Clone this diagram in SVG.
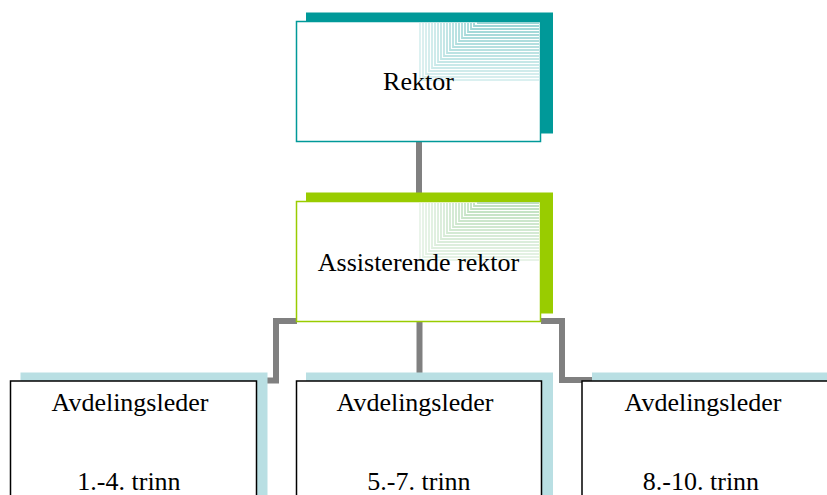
<svg xmlns="http://www.w3.org/2000/svg" xmlns:xlink="http://www.w3.org/1999/xlink" width="827" height="495" viewBox="0 0 827 495">
  <style>
    .label { font-family: "Liberation Serif", "DejaVu Serif", "Times New Roman", serif; font-size: 26px; fill: #000; text-anchor: middle; }
    .conn { fill: none; stroke: #808080; stroke-width: 6; stroke-linejoin: miter; }
    .card { fill: #fff; stroke-width: 1.5; }
    .sh-teal { fill: #009999; }
    .sh-green { fill: #99cc00; }
    .sh-blue { fill: #b9dfe3; }
  </style>
  <defs>
    <!-- nested corner lines, converging on the top-right of a card -->
    <g id="fan" fill="none" stroke-width="1.8">
      <polyline points="57,0 57,0 119,0" stroke-opacity="0.90"/>
      <polyline points="54,0 54,3 119,3" stroke-opacity="0.87"/>
      <polyline points="51,0 51,6 119,6" stroke-opacity="0.84"/>
      <polyline points="48,0 48,9 119,9" stroke-opacity="0.81"/>
      <polyline points="45,0 45,12 119,12" stroke-opacity="0.78"/>
      <polyline points="42,0 42,15 119,15" stroke-opacity="0.75"/>
      <polyline points="39,0 39,18 119,18" stroke-opacity="0.72"/>
      <polyline points="36,0 36,21 119,21" stroke-opacity="0.69"/>
      <polyline points="33,0 33,24 119,24" stroke-opacity="0.66"/>
      <polyline points="30,0 30,27 119,27" stroke-opacity="0.63"/>
      <polyline points="27,0 27,30 119,30" stroke-opacity="0.60"/>
      <polyline points="24,0 24,33 119,33" stroke-opacity="0.57"/>
      <polyline points="21,0 21,36 119,36" stroke-opacity="0.54"/>
      <polyline points="18,0 18,39 119,39" stroke-opacity="0.51"/>
      <polyline points="15,0 15,42 119,42" stroke-opacity="0.48"/>
      <polyline points="12,0 12,45 119,45" stroke-opacity="0.45"/>
      <polyline points="9,0 9,48 119,48" stroke-opacity="0.42"/>
      <polyline points="6,0 6,51 119,51" stroke-opacity="0.39"/>
      <polyline points="3,0 3,54 119,54" stroke-opacity="0.36"/>
      <polyline points="0,0 0,57 119,57" stroke-opacity="0.33"/>
    </g>
  </defs>

  <rect width="827" height="495" fill="#fff"/>

  <g id="connectors">
    <path class="conn" d="M419 141 V193"/>
    <path class="conn" d="M297 321 H276 V380.5 H267"/>
    <path class="conn" d="M419.5 321 V373"/>
    <path class="conn" d="M541 321 H562 V380 H592"/>
  </g>

  <g id="rektor">
    <rect class="sh-teal" x="306" y="12.5" width="247" height="121"/>
    <rect class="card" x="296.5" y="21.5" width="244" height="120" stroke="#009999"/>
    <use xlink:href="#fan" x="420" y="23" stroke="#8fd0d0"/>
    <text class="label" font-family="Liberation Serif, DejaVu Serif, serif" x="418.5" y="89.5">Rektor</text>
  </g>

  <g id="assisterende-rektor">
    <rect class="sh-green" x="306" y="192.5" width="247" height="121"/>
    <rect class="card" x="296.5" y="201.5" width="244" height="120" stroke="#99cc00"/>
    <use xlink:href="#fan" x="420" y="203" stroke="#b8dcb8"/>
    <text class="label" font-family="Liberation Serif, DejaVu Serif, serif" x="418.5" y="271">Assisterende rektor</text>
  </g>

  <g id="avdeling-1-4">
    <rect class="sh-blue" x="20.5" y="372.5" width="247" height="130"/>
    <rect class="card" x="10.5" y="381" width="246" height="125" stroke="#000"/>
    <text class="label" font-family="Liberation Serif, DejaVu Serif, serif" x="130" y="411">Avdelingsleder</text>
    <text class="label" font-family="Liberation Serif, DejaVu Serif, serif" x="129" y="490">1.-4. trinn</text>
  </g>

  <g id="avdeling-5-7">
    <rect class="sh-blue" x="306" y="372.5" width="247" height="130"/>
    <rect class="card" x="296.5" y="381" width="245" height="125" stroke="#000"/>
    <text class="label" font-family="Liberation Serif, DejaVu Serif, serif" x="415" y="411">Avdelingsleder</text>
    <text class="label" font-family="Liberation Serif, DejaVu Serif, serif" x="419" y="490">5.-7. trinn</text>
  </g>

  <g id="avdeling-8-10">
    <rect class="sh-blue" x="592" y="372.5" width="247" height="130"/>
    <rect class="card" x="582" y="381" width="246" height="125" stroke="#000"/>
    <text class="label" font-family="Liberation Serif, DejaVu Serif, serif" x="703" y="411">Avdelingsleder</text>
    <text class="label" font-family="Liberation Serif, DejaVu Serif, serif" x="701" y="490">8.-10. trinn</text>
  </g>
</svg>
